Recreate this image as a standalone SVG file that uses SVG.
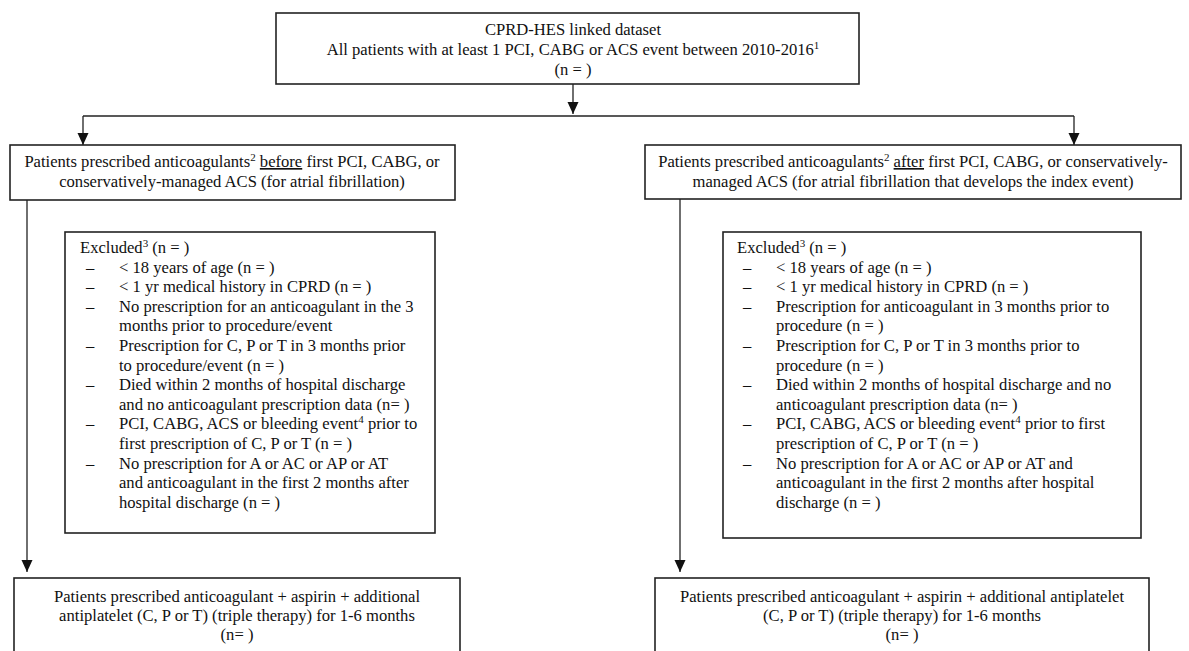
<svg xmlns="http://www.w3.org/2000/svg" width="1189" height="651" viewBox="0 0 1189 651">
<style>
text{font-family:"Liberation Serif","Times New Roman",serif;font-size:16.6px;fill:#111}
.c{text-anchor:middle}
.box{fill:#fff;stroke:#222;stroke-width:1.6}
.ln{fill:none;stroke:#222;stroke-width:1.3}
.sup{font-size:11px}
.u{text-decoration:underline}
</style>
<defs>
<marker id="ah" markerUnits="userSpaceOnUse" markerWidth="12" markerHeight="12" refX="12" refY="6" orient="auto">
<path d="M0,0.5 L12,6 L0,11.5 z" fill="#111"/>
</marker>
</defs>
<rect width="1189" height="651" fill="#fff"/>
<g id="connectors">
<line class="ln" x1="573" y1="84" x2="573" y2="114" marker-end="url(#ah)"/>
<line class="ln" x1="83" y1="116" x2="1074" y2="116"/>
<line class="ln" x1="83" y1="116" x2="83" y2="145" marker-end="url(#ah)"/>
<line class="ln" x1="1074" y1="116" x2="1074" y2="145" marker-end="url(#ah)"/>
<line class="ln" x1="27" y1="200" x2="27" y2="572" marker-end="url(#ah)"/>
<line class="ln" x1="680" y1="199" x2="680" y2="572" marker-end="url(#ah)"/>
</g>
<g id="top">
<rect class="box" x="276" y="13" width="583" height="71"/>
<text class="c" x="573" y="35">CPRD-HES linked dataset</text>
<text class="c" x="573" y="55">All patients with at least 1 PCI, CABG or ACS event between 2010-2016<tspan class="sup" dy="-6">1</tspan></text>
<text class="c" x="573" y="75">(n = )</text>
</g>
<g id="before">
<rect class="box" x="10" y="145" width="445" height="55"/>
<text class="c" x="232" y="167">Patients prescribed anticoagulants<tspan class="sup" dy="-6">2</tspan><tspan dy="6"> </tspan><tspan class="u">before</tspan> first PCI, CABG, or</text>
<text class="c" x="232" y="187">conservatively-managed ACS (for atrial fibrillation)</text>
</g>
<g id="after">
<rect class="box" x="645" y="145" width="536" height="54"/>
<text class="c" x="913" y="167">Patients prescribed anticoagulants<tspan class="sup" dy="-6">2</tspan><tspan dy="6"> </tspan><tspan class="u">after</tspan> first PCI, CABG, or conservatively-</text>
<text class="c" x="913" y="187">managed ACS (for atrial fibrillation that develops the index event)</text>
</g>
<g id="excluded-left">
<rect class="box" x="65" y="232" width="370" height="301"/>
<text x="80" y="253">Excluded<tspan class="sup" dy="-6">3</tspan><tspan dy="6"> (n = )</tspan></text>
<text x="86" y="272.6">–</text><text x="119" y="272.6">&lt; 18 years of age (n = )</text>
<text x="86" y="292.2">–</text><text x="119" y="292.2">&lt; 1 yr medical history in CPRD (n = )</text>
<text x="86" y="311.8">–</text><text x="119" y="311.8">No prescription for an anticoagulant in the 3</text>
<text x="119" y="331.4">months prior to procedure/event</text>
<text x="86" y="351">–</text><text x="119" y="351">Prescription for C, P or T in 3 months prior</text>
<text x="119" y="370.6">to procedure/event (n = )</text>
<text x="86" y="390.2">–</text><text x="119" y="390.2">Died within 2 months of hospital discharge</text>
<text x="119" y="409.8">and no anticoagulant prescription data (n= )</text>
<text x="86" y="429.4">–</text><text x="119" y="429.4">PCI, CABG, ACS or bleeding event<tspan class="sup" dy="-6">4</tspan><tspan dy="6"> prior to</tspan></text>
<text x="119" y="449">first prescription of C, P or T (n = )</text>
<text x="86" y="468.6">–</text><text x="119" y="468.6">No prescription for A or AC or AP or AT</text>
<text x="119" y="488.2">and anticoagulant in the first 2 months after</text>
<text x="119" y="507.8">hospital discharge (n = )</text>
</g>
<g id="excluded-right">
<rect class="box" x="723" y="232" width="418" height="306"/>
<text x="737" y="253">Excluded<tspan class="sup" dy="-6">3</tspan><tspan dy="6"> (n = )</tspan></text>
<text x="743" y="272.6">–</text><text x="776" y="272.6">&lt; 18 years of age (n = )</text>
<text x="743" y="292.2">–</text><text x="776" y="292.2">&lt; 1 yr medical history in CPRD (n = )</text>
<text x="743" y="311.8">–</text><text x="776" y="311.8">Prescription for anticoagulant in 3 months prior to</text>
<text x="776" y="331.4">procedure (n = )</text>
<text x="743" y="351">–</text><text x="776" y="351">Prescription for C, P or T in 3 months prior to</text>
<text x="776" y="370.6">procedure (n = )</text>
<text x="743" y="390.2">–</text><text x="776" y="390.2">Died within 2 months of hospital discharge and no</text>
<text x="776" y="409.8">anticoagulant prescription data (n= )</text>
<text x="743" y="429.4">–</text><text x="776" y="429.4">PCI, CABG, ACS or bleeding event<tspan class="sup" dy="-6">4</tspan><tspan dy="6"> prior to first</tspan></text>
<text x="776" y="449">prescription of C, P or T (n = )</text>
<text x="743" y="468.6">–</text><text x="776" y="468.6">No prescription for A or AC or AP or AT and</text>
<text x="776" y="488.2">anticoagulant in the first 2 months after hospital</text>
<text x="776" y="507.8">discharge (n = )</text>
</g>
<g id="triple-left">
<rect class="box" x="14" y="578" width="446" height="90"/>
<text class="c" x="237" y="602">Patients prescribed anticoagulant + aspirin + additional</text>
<text class="c" x="237" y="621">antiplatelet (C, P or T) (triple therapy) for 1-6 months</text>
<text class="c" x="237" y="640">(n= )</text>
</g>
<g id="triple-right">
<rect class="box" x="655" y="578" width="494" height="90"/>
<text class="c" x="902" y="602">Patients prescribed anticoagulant + aspirin + additional antiplatelet</text>
<text class="c" x="902" y="621">(C, P or T) (triple therapy) for 1-6 months</text>
<text class="c" x="902" y="640">(n= )</text>
</g>
</svg>
